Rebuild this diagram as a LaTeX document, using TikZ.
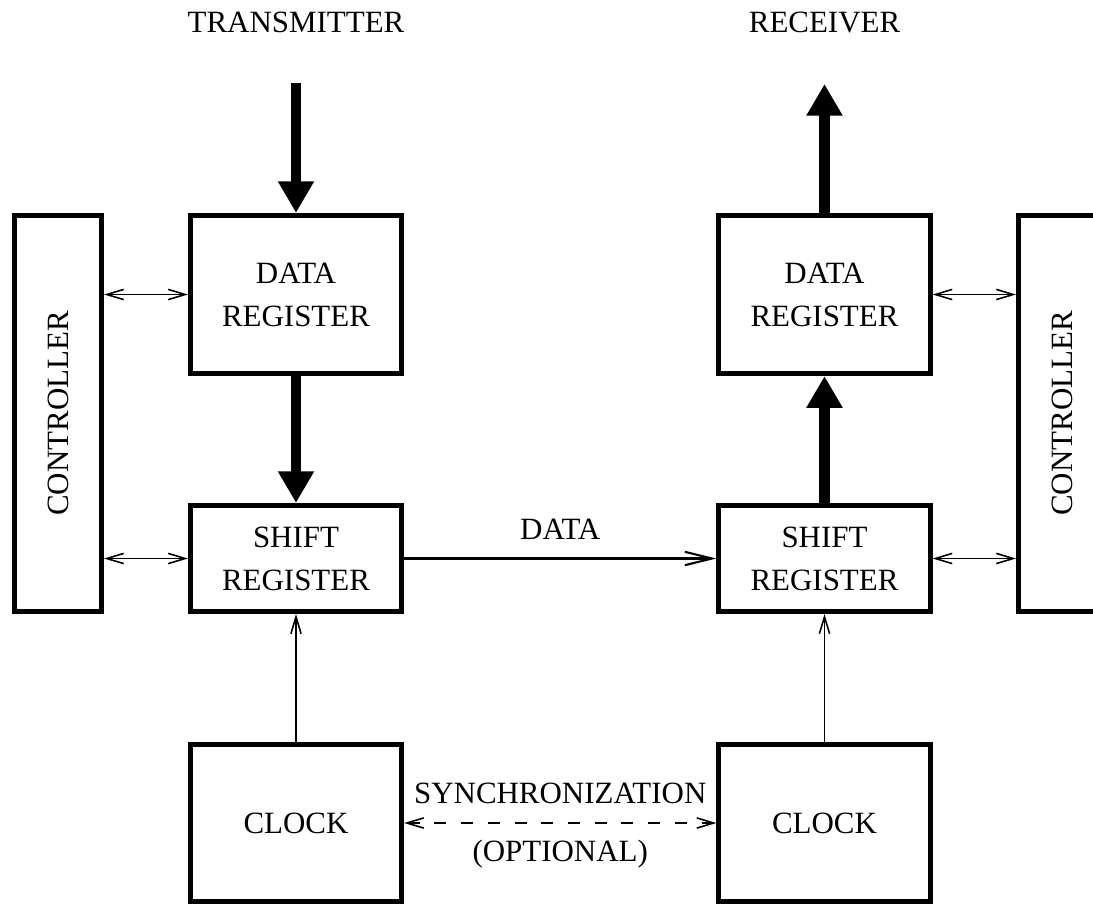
\documentclass[tikz,border=0pt]{standalone}
\usepackage{graphicx}
\usepackage{fontspec}
\setmainfont{Liberation Serif}
\usetikzlibrary{arrows.meta,positioning}
\tikzstyle{blk} = [rectangle, draw=black, line width=1.45pt, fill=none, text centered, align=center, font=\fontsize{8.8}{12.2}\selectfont]

\begin{document}
\begin{tikzpicture}[x=0.01cm,y=-0.01cm,>={Straight Barb[length=4.8pt,width=2.9pt]}]
\tikzstyle{reg} = [blk, minimum width=2.11cm]
\tikzstyle{ctrl} = [blk, minimum width=0.87cm, minimum height=3.96cm]
\tikzstyle{ttl} = [font=\fontsize{8.8}{12.2}\selectfont]
\tikzstyle{bus} = [-{Triangle[length=9pt,width=9.7pt]}, line width=3.1pt]
\tikzstyle{sig} = [line width=0.45pt]
\useasboundingbox (0,0) rectangle (1093,905);

% transmitter
\node[ttl] (tx) at (296,22) {TRANSMITTER};
\node[ctrl] (cl) at (58,413.5) {\rotatebox{90}{CONTROLLER}};
\node[reg, minimum height=1.58cm] (dl) at (296,294.5) {DATA\\REGISTER};
\node[reg, minimum height=1.06cm] (sl) at (296,558.5) {SHIFT\\REGISTER};
\node[reg, minimum height=1.57cm] (kl) at (296,823) {CLOCK};
\coordinate (inl) at (296,83);

% receiver
\node[ttl] (rx) at (824.5,22) {RECEIVER};
\node[ctrl] (cr) at (1062,413.5) {\rotatebox{90}{CONTROLLER}};
\node[reg, minimum height=1.58cm] (dr) at (824.5,294.5) {DATA\\REGISTER};
\node[reg, minimum height=1.06cm] (sr) at (824.5,558.5) {SHIFT\\REGISTER};
\node[reg, minimum height=1.57cm] (kr) at (824.5,823) {CLOCK};
\coordinate (outr) at (824.5,84);

\draw[bus] (inl) -- (dl);
\draw[bus] (dl) -- (sl);
\draw[bus] (sr) -- (dr);
\draw[bus] (dr) -- (outr);

\draw[<->, sig] (cl.east |- dl) -- (dl);
\draw[<->, sig] (cl.east |- sl) -- (sl);
\draw[<->, sig] (cr.west |- dr) -- (dr);
\draw[<->, sig] (cr.west |- sr) -- (sr);
\draw[->, sig] (kl) -- (sl);
\draw[->, sig] (kr) -- (sr);

\draw[-{Straight Barb[length=7.7pt,width=3.8pt]}, line width=0.6pt] (sl) -- (sr)
  node[ttl, midway, above=1.8pt] {DATA};
\draw[<->, sig, dash pattern=on 3.4pt off 4.2pt] (kl) -- (kr)
  node[ttl, midway, above=1.8pt] {SYNCHRONIZATION}
  node[ttl, midway, below=1.3pt] {(OPTIONAL)};
\end{tikzpicture}
\end{document}
